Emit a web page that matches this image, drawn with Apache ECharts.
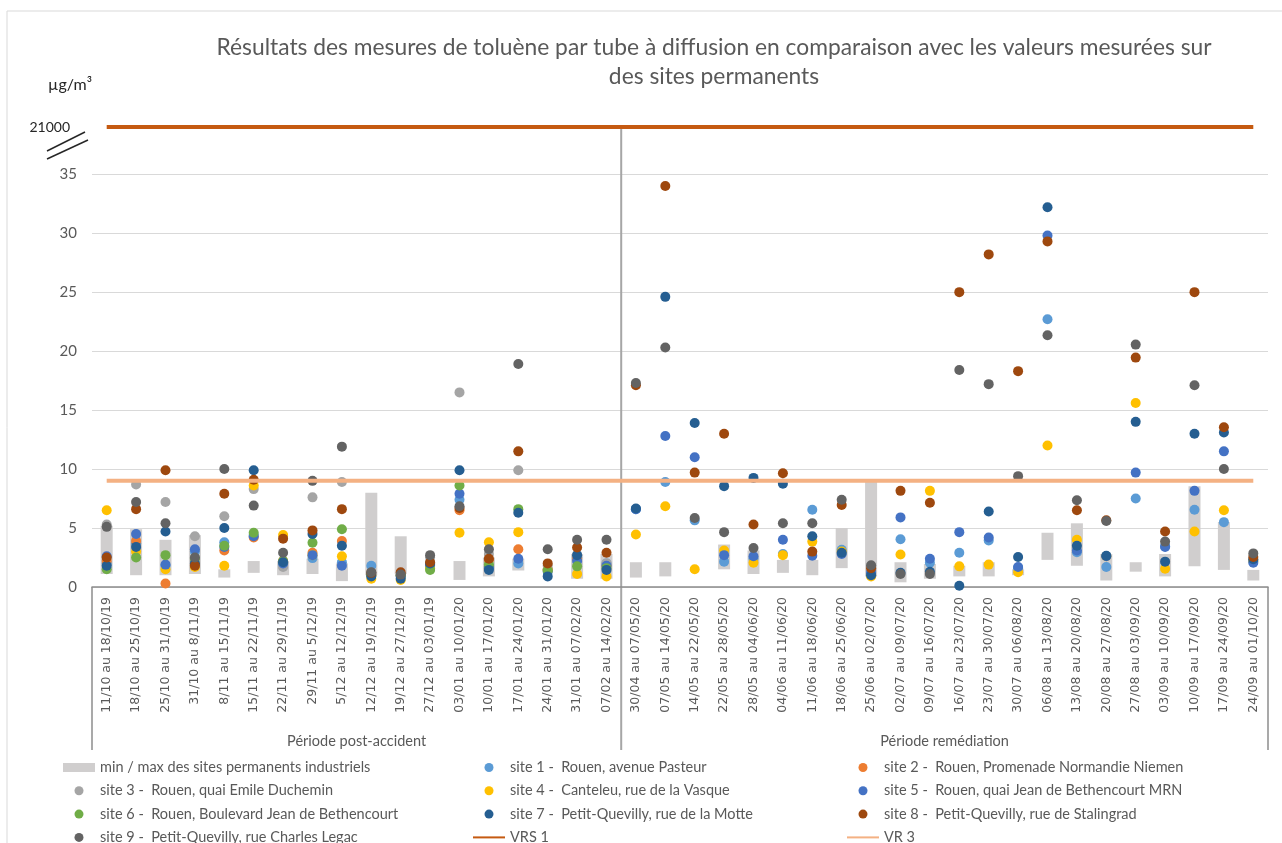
<!DOCTYPE html>
<html>
<head>
<meta charset="utf-8">
<script src="https://cdn.jsdelivr.net/npm/echarts@6/dist/echarts.min.js"></script>
<style>
  html, body { margin: 0; padding: 0; background: #fff; }
  #chart { width: 1282px; height: 843px; }
</style>
</head>
<body>
<div id="chart"></div>
<script>
// periods (18 post-accident + 22 remediation)
var categories = [
  '11/10 au 18/10/19', '18/10 au 25/10/19', '25/10 au 31/10/19', '31/10 au 8/11/19',
  '8/11 au 15/11/19', '15/11 au 22/11/19', '22/11 au 29/11/19', '29/11 au 5/12/19',
  '5/12 au 12/12/19', '12/12 au 19/12/19', '19/12 au 27/12/19', '27/12 au 03/01/19',
  '03/01 au 10/01/20', '10/01 au 17/01/20', '17/01 au 24/01/20', '24/01 au 31/01/20',
  '31/01 au 07/02/20', '07/02 au 14/02/20',
  '30/04 au 07/05/20', '07/05 au 14/05/20', '14/05 au 22/05/20', '22/05 au 28/05/20',
  '28/05 au 04/06/20', '04/06 au 11/06/20', '11/06 au 18/06/20', '18/06 au 25/06/20',
  '25/06 au 02/07/20', '02/07 au 09/07/20', '09/07 au 16/07/20', '16/07 au 23/07/20',
  '23/07 au 30/07/20', '30/07 au 06/08/20', '06/08 au 13/08/20', '13/08 au 20/08/20',
  '20/08 au 27/08/20', '27/08 au 03/09/20', '03/09 au 10/09/20', '10/09 au 17/09/20',
  '17/09 au 24/09/20', '24/09 au 01/10/20'
]
var periods = ['Période post-accident', 'Période remédiation']
var nbPost = 18

// min / max des sites permanents
var permMin = [1.1, 1.0, 1.0, 1.1, 0.8, 1.2, 1.0, 1.1, 0.5, 1.0, 1.1, null, 0.6, 0.9, 1.4, null, 0.7, 0.7,
  0.8, 0.9, null, 1.5, 1.1, 1.2, 1.0, 1.6, 0.9, 0.4, 0.7, 0.9, 0.9, 1.0, 2.3, 1.8, 0.55, 1.3, 0.9, 1.75, 1.45, 0.55]
var permMax = [5.2, 4.9, 4.0, 4.4, 1.5, 2.2, 2.2, 2.4, 2.0, 8.0, 4.3, null, 2.2, 2.5, 2.4, null, 2.8, 2.8,
  2.1, 2.1, null, 3.6, 3.1, 2.3, 2.3, 5.0, 8.9, 2.1, 1.95, 1.8, 2.1, 1.5, 4.6, 5.4, 2.8, 2.1, 2.8, 8.55, 5.5, 1.45]

var site1 = [2.0, 3.7, 1.8, 3.0, 3.8, 4.4, 2.05, 2.45, 2.1, 1.8, 1.0, 1.8, 7.4, 1.6, 2.0, 1.5, 2.5, 2.0,
  6.6, 8.9, 5.65, 2.15, 2.4, 2.8, 6.55, 3.15, 1.3, 4.05, 2.05, 2.9, 3.95, 1.6, 22.7, 2.95, 1.7, 7.5, 3.45, 6.55, 5.5, 2.2]
var site2 = [2.2, 3.9, 0.3, 1.9, 3.1, 4.2, 2.2, 2.9, 3.9, 1.0, 1.0, 1.8, 6.5, 2.3, 3.2, 1.5, 2.4, 1.8,
  null, null, null, null, null, null, null, null, null, null, null, null, null, null, null, null, null, null, null, null, null, null]
var site3 = [5.3, 8.7, 7.2, 4.3, 6.0, 8.3, 1.7, 7.6, 8.9, 1.2, 1.0, 2.5, 16.5, 2.8, 9.9, 1.8, 2.7, 2.0,
  null, null, null, null, null, null, null, null, null, null, null, null, null, null, null, null, null, null, null, null, null, null]
var site4 = [6.5, 3.0, 1.5, 1.7, 1.8, 8.6, 4.4, 2.7, 2.6, 0.7, 0.6, 1.6, 4.6, 3.8, 4.65, 1.4, 1.1, 0.9,
  4.45, 6.85, 1.5, 3.1, 2.05, 2.7, 3.85, 3.0, 0.9, 2.75, 8.15, 1.75, 1.9, 1.25, 12.0, 4.0, 2.6, 15.6, 1.55, 4.7, 6.5, 2.2]
var site5 = [2.6, 4.5, 1.9, 3.2, 3.4, 4.3, 2.0, 2.7, 1.8, 1.1, 0.9, 1.9, 7.9, 1.7, 2.4, 1.3, 2.2, 1.8,
  6.6, 12.8, 11.0, 2.7, 2.6, 4.0, 2.65, 2.8, 1.2, 5.9, 2.4, 4.65, 4.2, 1.7, 29.8, 3.1, 2.6, 9.7, 3.4, 8.15, 11.5, 2.05]
var site6 = [1.5, 2.5, 2.7, 2.4, 3.5, 4.6, 2.2, 3.75, 4.9, 1.0, 1.0, 1.45, 8.6, 1.9, 6.6, 1.4, 1.75, 1.6,
  null, null, null, null, null, null, null, null, null, null, null, null, null, null, null, null, null, null, null, null, null, null]
var site7 = [1.8, 3.4, 4.7, 2.0, 5.0, 9.9, 2.1, 4.5, 3.5, 0.9, 0.7, 2.0, 9.9, 1.45, 6.3, 0.9, 2.7, 1.45,
  6.65, 24.6, 13.9, 8.55, 9.25, 8.75, 4.3, 2.9, 1.0, 1.2, 1.3, 0.1, 6.4, 2.55, 32.2, 3.5, 2.65, 14.0, 2.15, 13.0, 13.1, 2.35]
var site8 = [2.5, 6.6, 9.9, 1.8, 7.9, 9.1, 4.1, 4.8, 6.6, 1.2, 1.25, 2.1, 6.7, 2.4, 11.5, 2.0, 3.35, 2.9,
  17.1, 34.0, 9.7, 13.0, 5.3, 9.65, 3.0, 6.95, 1.6, 8.15, 7.15, 25.0, 28.2, 18.3, 29.3, 6.5, 5.65, 19.45, 4.7, 25.0, 13.55, 2.55]
var site9 = [5.1, 7.2, 5.4, 2.5, 10.0, 6.9, 2.9, 9.0, 11.9, 1.25, 1.05, 2.7, 6.85, 3.2, 18.9, 3.2, 4.0, 4.0,
  17.3, 20.3, 5.85, 4.65, 3.3, 5.4, 5.4, 7.4, 1.85, 1.1, 1.1, 18.4, 17.2, 9.4, 21.35, 7.35, 5.6, 20.55, 3.85, 17.1, 10.0, 2.85]

// valeurs de référence
var vrs1Value = 21000
var vr3Value = 9

var yTicks = [0, 5, 10, 15, 20, 25, 30, 35]

var sites = [
  { name: 'site 1 -  Rouen, avenue Pasteur', data: site1, color: '#5B9BD5' },
  { name: 'site 2 -  Rouen, Promenade Normandie Niemen', data: site2, color: '#ED7D31' },
  { name: 'site 3 -  Rouen, quai Emile Duchemin', data: site3, color: '#A5A5A5' },
  { name: 'site 4 -  Canteleu, rue de la Vasque', data: site4, color: '#FFC000' },
  { name: 'site 5 -  Rouen, quai Jean de Bethencourt MRN', data: site5, color: '#4472C4' },
  { name: 'site 6 -  Rouen, Boulevard Jean de Bethencourt', data: site6, color: '#70AD47' },
  { name: 'site 7 -  Petit-Quevilly, rue de la Motte', data: site7, color: '#255E91' },
  { name: 'site 8 -  Petit-Quevilly, rue de Stalingrad', data: site8, color: '#9E480E' },
  { name: 'site 9 -  Petit-Quevilly, rue Charles Legac', data: site9, color: '#636363' }
]
var minMaxName = 'min / max des sites permanents industriels'

var font = 'Lato'
var txtColor = '#595959'

var myChart = echarts.init(document.getElementById('chart'))

var series = [
  {
    name: 'base', type: 'bar', stack: 'perm', barWidth: 12, silent: true,
    itemStyle: { color: 'transparent' },
    data: permMin
  },
  {
    name: minMaxName, type: 'bar', stack: 'perm', barWidth: 12, silent: true,
    itemStyle: { color: '#D0CECE' },
    data: permMax.map(function (v, i) { return v == null ? null : +(v - permMin[i]).toFixed(2) })
  },
  {
    name: 'VRS 1', type: 'line', yAxisIndex: 1, symbol: 'none', silent: true,
    itemStyle: { color: '#C55A11' },
    lineStyle: { color: '#C55A11', width: 4 },
    data: categories.map(function () { return vrs1Value })
  },
  {
    name: 'VR 3', type: 'line', symbol: 'none', silent: true,
    itemStyle: { color: '#F4B183' },
    lineStyle: { color: '#F4B183', width: 4 },
    data: categories.map(function () { return vr3Value })
  }
]
sites.forEach(function (s) {
  series.push({
    name: s.name, type: 'scatter', symbol: 'circle', symbolSize: 10,
    itemStyle: { color: s.color, opacity: 1 },
    emphasis: { disabled: true },
    data: s.data
  })
})

var legendBase = {
  orient: 'vertical', top: 760, height: 140, itemWidth: 32, itemHeight: 9, itemGap: 8.3,
  selectedMode: false, padding: 0,
  textStyle: { color: txtColor, fontSize: 14.5, fontFamily: font }
}
var noDot = { opacity: 0 }

option = {
  animation: false,
  backgroundColor: '#fff',
  title: {
    text: 'Résultats des mesures de toluène par tube à diffusion en comparaison avec les valeurs mesurées sur\ndes sites permanents',
    left: 709, top: 28, textAlign: 'center',
    textStyle: { color: txtColor, fontSize: 22.8, lineHeight: 29, fontWeight: 'normal', fontFamily: font }
  },
  legend: [
    Object.assign({}, legendBase, { left: 63, data: [{ name: minMaxName, icon: 'rect' }, sites[2].name, sites[5].name, sites[8].name] }),
    Object.assign({}, legendBase, { left: 472, data: [sites[0].name, sites[3].name, sites[6].name, { name: 'VRS 1', itemStyle: noDot }] }),
    Object.assign({}, legendBase, { left: 846, data: [sites[1].name, sites[4].name, sites[7].name, { name: 'VR 3', itemStyle: noDot }] })
  ],
  grid: { left: 92, right: 14, top: 127, bottom: 256, outerBoundsMode: 'none' },
  xAxis: {
    type: 'category',
    data: categories,
    axisLine: { lineStyle: { color: '#8c8c8c', width: 1.5 } },
    axisTick: { show: false },
    axisLabel: {
      interval: 0, rotate: 90, margin: 10,
      color: txtColor, fontSize: 12.5, fontFamily: 'DejaVu Sans'
    },
    splitLine: { show: false }
  },
  yAxis: [
    {
      type: 'value', min: yTicks[0], max: 39, interval: 5,
      axisLine: { show: false },
      axisTick: { show: false },
      axisLabel: {
        margin: 15, color: txtColor, fontSize: 15, fontFamily: font, showMaxLabel: false,
        formatter: function (v) { return yTicks.indexOf(v) >= 0 ? String(v) : '' }
      },
      splitLine: { showMaxLine: false, lineStyle: { color: '#D9D9D9', width: 1 } }
    },
    {
      type: 'value', min: 0, max: vrs1Value, interval: vrs1Value, position: 'left', offset: 7,
      axisLine: { show: false },
      axisTick: { show: false },
      splitLine: { show: false },
      axisLabel: {
        margin: 15, color: '#262626', fontSize: 14, fontFamily: font,
        formatter: function (v) { return v > 0 ? String(v) : '' }
      }
    }
  ],
  series: series
}
myChart.setOption(option)

// decorations: period brackets, axis break marks, unit
function decor() {
  var x0 = myChart.convertToPixel({ xAxisIndex: 0 }, 0)
  var step = myChart.convertToPixel({ xAxisIndex: 0 }, 1) - x0
  var xLeft = x0 - step / 2
  var xSep = x0 + (nbPost - 0.5) * step
  var xRight = x0 + (categories.length - 0.5) * step
  var yZero = myChart.convertToPixel({ yAxisIndex: 0 }, 0)
  var yTop = myChart.convertToPixel({ yAxisIndex: 0 }, 39)
  var yBot = yZero + 163
  var bracket = { stroke: '#8c8c8c', lineWidth: 1.5 }
  myChart.setOption({
    graphic: [
      { type: 'rect', shape: { x: 7, y: 11, width: 1300, height: 860 }, style: { fill: 'none', stroke: '#D9D9D9', lineWidth: 1 }, silent: true },
      { type: 'line', shape: { x1: xLeft, y1: yZero, x2: xLeft, y2: yBot }, style: bracket, silent: true },
      { type: 'line', shape: { x1: xRight, y1: yZero, x2: xRight, y2: yBot }, style: bracket, silent: true },
      { type: 'line', shape: { x1: xSep, y1: yTop, x2: xSep, y2: yBot }, style: { stroke: '#A6A6A6', lineWidth: 2 }, silent: true },
      { type: 'text', x: (xLeft + xSep) / 2, y: yBot - 9, style: { text: periods[0], align: 'center', verticalAlign: 'middle', fill: txtColor, font: '14.5px ' + font }, silent: true },
      { type: 'text', x: (xSep + xRight) / 2, y: yBot - 9, style: { text: periods[1], align: 'center', verticalAlign: 'middle', fill: txtColor, font: '14.5px ' + font }, silent: true },
      { type: 'line', shape: { x1: xLeft - 45, y1: yTop + 24, x2: xLeft - 7, y2: yTop + 5 }, style: { stroke: '#262626', lineWidth: 1.5 }, silent: true },
      { type: 'line', shape: { x1: xLeft - 45, y1: yTop + 32, x2: xLeft - 4, y2: yTop + 13 }, style: { stroke: '#262626', lineWidth: 1.5 }, silent: true },
      { type: 'text', x: xLeft - 22, y: yTop - 42, style: { text: 'µg/m³', align: 'center', verticalAlign: 'middle', fill: '#262626', font: '16px ' + font }, silent: true }
    ]
  })
}
decor()
</script>
</body>
</html>
